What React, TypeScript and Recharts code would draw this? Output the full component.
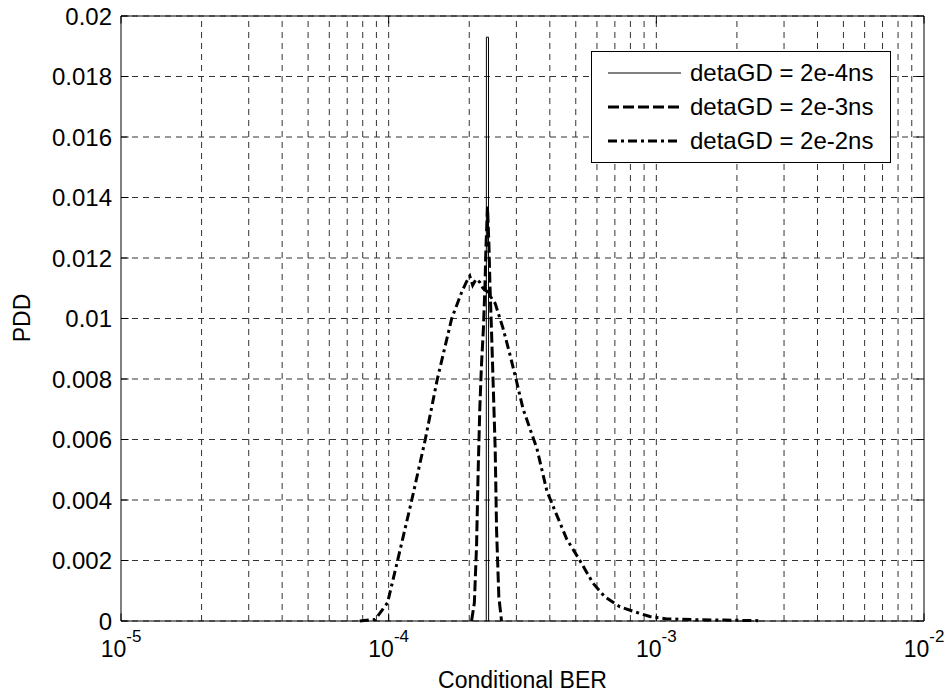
import React from 'react';
import { LineChart, Line, XAxis, YAxis, CartesianGrid, ReferenceLine } from 'recharts';

const xTicks = [1e-5, 1e-4, 1e-3, 1e-2];
const xTickExponents = ['-5', '-4', '-3', '-2'];
const yTicks = [0, 0.002, 0.004, 0.006, 0.008, 0.01, 0.012, 0.014, 0.016, 0.018, 0.02];
const xGridValues = [
  2e-5, 3e-5, 4e-5, 5e-5, 6e-5, 7e-5, 8e-5, 9e-5, 1e-4,
  2e-4, 3e-4, 4e-4, 5e-4, 6e-4, 7e-4, 8e-4, 9e-4, 1e-3,
  2e-3, 3e-3, 4e-3, 5e-3, 6e-3, 7e-3, 8e-3, 9e-3,
];

const seriesNames = ['detaGD = 2e-4ns', 'detaGD = 2e-3ns', 'detaGD = 2e-2ns'];

// detaGD = 2e-4ns
const ber1 = [2.315e-4, 2.318e-4, 2.36e-4, 2.363e-4];
const pdd1 = [0, 0.0193, 0.0193, 0];

// detaGD = 2e-3ns
const ber2 = [2.04e-4, 2.09e-4, 2.13e-4, 2.16e-4, 2.19e-4, 2.22e-4, 2.26e-4, 2.29e-4, 2.31e-4, 2.325e-4, 2.34e-4, 2.37e-4, 2.39e-4, 2.42e-4, 2.46e-4, 2.5e-4, 2.53e-4, 2.58e-4, 2.64e-4];
const pdd2 = [0, 0.0006, 0.0025, 0.005, 0.007, 0.0084, 0.0097, 0.0111, 0.0124, 0.013, 0.0137, 0.0124, 0.0111, 0.0097, 0.0077, 0.0057, 0.003, 0.0008, 0];

// detaGD = 2e-2ns
const ber3 = [7.8e-5, 8.9e-5, 9.9e-5, 1.08e-4, 1.22e-4, 1.37e-4, 1.52e-4, 1.72e-4, 1.88e-4, 1.95e-4, 2.01e-4, 2.06e-4, 2.12e-4, 2.19e-4, 2.25e-4, 2.33e-4, 2.5e-4, 2.67e-4, 2.84e-4, 2.99e-4, 3.18e-4, 3.58e-4, 3.9e-4, 4.11e-4, 4.63e-4, 5.18e-4, 5.8e-4, 6.42e-4, 7.31e-4, 8.32e-4, 9.46e-4, 1.095e-3, 1.45e-3, 1.8e-3, 2.44e-3];
const pdd3 = [0, 0.00005, 0.0006, 0.002, 0.004, 0.006, 0.008, 0.01, 0.0109, 0.0112, 0.0114, 0.0111, 0.0113, 0.0112, 0.011, 0.0109, 0.0105, 0.0097, 0.0088, 0.008, 0.007, 0.0057, 0.0043, 0.0038, 0.0027, 0.002, 0.00125, 0.0008, 0.00047, 0.0003, 0.00015, 0.00007, 0.00004, 0.00003, 0.00001];

const zip = (xs: number[], ys: number[]) => xs.map((x, i) => ({ x, y: ys[i] }));
const data1 = zip(ber1, pdd1);
const data2 = zip(ber2, pdd2);
const data3 = zip(ber3, pdd3);

const dashes = [undefined, '11 4', '9 4 3 4'];
const widths = [1, 3, 3];

const FONT = '"Liberation Sans", Arial, Helvetica, sans-serif';
const W = 952;
const H = 698;

const XTick = (props: any) => {
  const { x, y, payload } = props;
  const idx = xTicks.indexOf(payload.value);
  const exp = idx >= 0 ? xTickExponents[idx] : '';
  return (
    <text x={x} y={y + 36} textAnchor="middle" fontFamily={FONT} fontSize={23} fill="#000">
      <tspan>10</tspan>
      <tspan dy={-15} fontSize={17}>{exp}</tspan>
    </text>
  );
};

const fmtY = (v: number) => String(Number(v.toFixed(3)));

const Legendbox = () => (
  <div
    style={{
      position: 'absolute',
      left: 591,
      top: 51,
      width: 298,
      height: 110,
      border: '1px solid #000',
      background: '#fff',
      fontFamily: FONT,
      fontSize: 24,
      color: '#000',
      boxSizing: 'content-box',
    }}
  >
    {seriesNames.map((name, i) => (
      <div key={name} style={{ position: 'absolute', left: 0, top: 6 + i * 34, height: 30, display: 'flex', alignItems: 'center', whiteSpace: 'nowrap' }}>
        <svg width={98} height={30} style={{ display: 'block' }}>
          <line x1={16} x2={89} y1={15} y2={15} stroke="#000" strokeWidth={widths[i]} strokeDasharray={dashes[i]} />
        </svg>
        <span>{name}</span>
      </div>
    ))}
  </div>
);

export default function App() {
  return (
    <div style={{ position: 'absolute', left: 0, top: 0, width: W, height: H, background: '#fff' }}>
      <LineChart width={W} height={H} margin={{ top: 16, right: 28, bottom: 0, left: 0 }}>
        <CartesianGrid vertical={false} stroke="#333" strokeDasharray="6 5" />
        {xGridValues.map((v) => (
          <ReferenceLine key={'g' + v} x={v} stroke="#333" strokeDasharray="6 5" ifOverflow="hidden" />
        ))}
        <ReferenceLine y={0.02} stroke="#000" strokeWidth={1} />
        <ReferenceLine x={1e-2} stroke="#000" strokeWidth={1} />
        {xTicks.map((v) => (
          <ReferenceLine key={'tb' + v} segment={[{ x: v, y: 0 }, { x: v, y: 0.00025 }]} stroke="#000" />
        ))}
        {xTicks.map((v) => (
          <ReferenceLine key={'tt' + v} segment={[{ x: v, y: 0.02 }, { x: v, y: 0.01975 }]} stroke="#000" />
        ))}
        {yTicks.map((v) => (
          <ReferenceLine key={'tl' + v} segment={[{ x: 1e-5, y: v }, { x: 1.067e-5, y: v }]} stroke="#000" />
        ))}
        {yTicks.map((v) => (
          <ReferenceLine key={'tr' + v} segment={[{ x: 1e-2, y: v }, { x: 0.937e-2, y: v }]} stroke="#000" />
        ))}
        <XAxis
          dataKey="x"
          type="number"
          scale="log"
          domain={[1e-5, 1e-2]}
          ticks={xTicks}
          allowDataOverflow
          height={77}
          tickLine={false}
          tickSize={0}
          tickMargin={0}
          axisLine={{ stroke: '#000', strokeWidth: 1 }}
          tick={<XTick />}
          interval={0}
          label={{
            content: () => (
              <text x={522.5} y={688} textAnchor="middle" fontFamily={FONT} fontSize={23} fill="#000">
                Conditional BER
              </text>
            ),
          }}
        />
        <YAxis
          dataKey="y"
          type="number"
          domain={[0, 0.02]}
          ticks={yTicks}
          interval={0}
          width={121}
          tickLine={false}
          tickSize={0}
          tickMargin={9}
          tickFormatter={fmtY}
          tick={{ fill: '#000', fontSize: 24, fontFamily: FONT }}
          axisLine={{ stroke: '#000', strokeWidth: 1 }}
          label={{
            content: () => (
              <text x={30} y={318} transform="rotate(-90 30 318)" textAnchor="middle" fontFamily={FONT} fontSize={23} fill="#000">
                PDD
              </text>
            ),
          }}
        />
        <Line data={data3} dataKey="y" name={seriesNames[2]} stroke="#000" strokeWidth={3} strokeDasharray={dashes[2]} dot={false} activeDot={false} isAnimationActive={false} type="linear" />
        <Line data={data2} dataKey="y" name={seriesNames[1]} stroke="#000" strokeWidth={3} strokeDasharray={dashes[1]} dot={false} activeDot={false} isAnimationActive={false} type="linear" />
        <Line data={data1} dataKey="y" name={seriesNames[0]} stroke="#000" strokeWidth={1} dot={false} activeDot={false} isAnimationActive={false} type="linear" />
      </LineChart>
      <Legendbox />
    </div>
  );
}
